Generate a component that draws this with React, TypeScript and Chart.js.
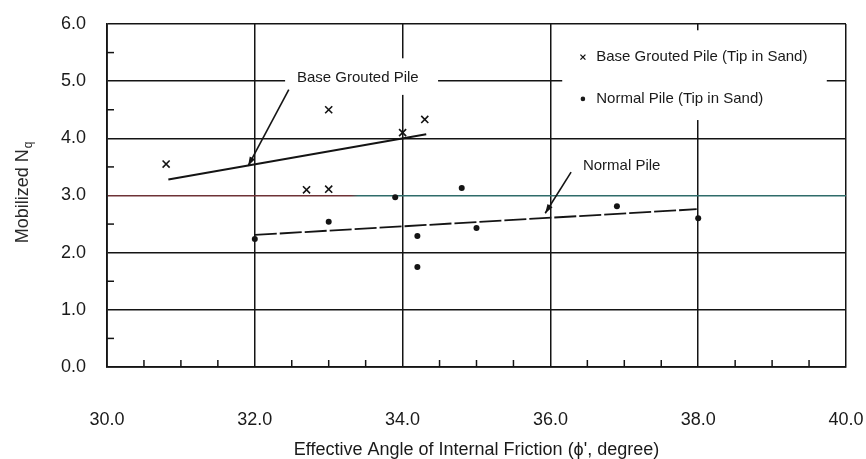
import React, { useEffect, useRef } from 'react';
import { Chart, registerables } from 'chart.js';

Chart.register(...registerables);

// ---- data ----
const groutedPhi = [30.8, 32.7, 33.0, 33.0, 34.0, 34.3];
const groutedNq = [3.55, 3.1, 3.11, 4.5, 4.1, 4.33];
const normalPhi = [32.0, 33.0, 33.9, 34.2, 34.2, 34.8, 35.0, 36.9, 38.0];
const normalNq = [2.24, 2.54, 2.97, 2.29, 1.75, 3.13, 2.43, 2.81, 2.6];
const groutedTrendPhi = [30.83, 34.32];
const groutedTrendNq = [3.28, 4.07];
const normalTrendPhi = [32.0, 37.98];
const normalTrendNq = [2.31, 2.76];
const xTickValues = [30, 32, 34, 36, 38, 40];
const yTickValues = [0, 1, 2, 3, 4, 5, 6];

const xTitle = "Effective Angle of Internal Friction (\u03D5', degree)";
const yTitleMain = 'Mobilized N';
const yTitleSub = 'q';
const legendGrouted = 'Base Grouted Pile (Tip in Sand)';
const legendNormal = 'Normal Pile (Tip in Sand)';
const labelGrouted = 'Base Grouted Pile';
const labelNormal = 'Normal Pile';

const FONT = "'Liberation Sans', Arial, sans-serif";
const INK = '#141414';
const TEXT = '#1a1a1a';

function arrow(ctx: CanvasRenderingContext2D, x1: number, y1: number, x2: number, y2: number) {
  ctx.beginPath();
  ctx.moveTo(x1, y1);
  ctx.lineTo(x2, y2);
  ctx.stroke();
  const a = Math.atan2(y2 - y1, x2 - x1);
  const len = 9;
  const w = 3;
  ctx.beginPath();
  ctx.moveTo(x2, y2);
  ctx.lineTo(x2 - len * Math.cos(a) + w * Math.sin(a), y2 - len * Math.sin(a) - w * Math.cos(a));
  ctx.lineTo(x2 - len * Math.cos(a) - w * Math.sin(a), y2 - len * Math.sin(a) + w * Math.cos(a));
  ctx.closePath();
  ctx.fill();
}

const decorPlugin = {
  id: 'decor',
  beforeDatasetsDraw(chart: any) {
    const { ctx, scales } = chart;
    const X = (v: number) => scales.x.getPixelForValue(v);
    const Y = (v: number) => scales.y.getPixelForValue(v);
    const area = chart.chartArea;
    ctx.save();
    ctx.strokeStyle = INK;
    ctx.fillStyle = INK;
    ctx.lineWidth = 1.5;
    // minor ticks
    for (let v = 30.5; v < 40; v += 0.5) {
      if (v % 2 === 0) continue;
      const px = X(v);
      ctx.beginPath();
      ctx.moveTo(px, area.bottom);
      ctx.lineTo(px, area.bottom - 7);
      ctx.stroke();
    }
    for (let v = 0.5; v < 6; v += 1) {
      const py = Y(v);
      ctx.beginPath();
      ctx.moveTo(area.left, py);
      ctx.lineTo(area.left + 7, py);
      ctx.stroke();
    }
    // white boxes behind labels and legend
    ctx.fillStyle = '#ffffff';
    ctx.fillRect(X(32.41), Y(5.4), X(34.48) - X(32.41), Y(4.76) - Y(5.4));
    ctx.fillRect(X(36.16), Y(5.89), X(39.74) - X(36.16), Y(4.32) - Y(5.89));
    ctx.fillStyle = TEXT;
    // labels
    ctx.font = `15px ${FONT}`;
    ctx.textBaseline = 'middle';
    ctx.textAlign = 'left';
    ctx.fillText(labelGrouted, X(32.57), Y(5.05));
    ctx.fillText(labelNormal, X(36.44), Y(3.52));
    // arrows
    ctx.fillStyle = INK;
    ctx.lineWidth = 1.6;
    arrow(ctx, X(32.46), Y(4.85), X(31.91), Y(3.52));
    arrow(ctx, X(36.28), Y(3.41), X(35.93), Y(2.69));
    // legend
    ctx.fillStyle = TEXT;
    ctx.font = `15px ${FONT}`;
    ctx.fillText(legendGrouted, X(36.62), Y(5.42));
    ctx.fillText(legendNormal, X(36.62), Y(4.69));
    const mx = X(36.44);
    const my1 = Y(5.42);
    ctx.lineWidth = 1.3;
    ctx.beginPath();
    ctx.moveTo(mx - 2.5, my1 - 2.5);
    ctx.lineTo(mx + 2.5, my1 + 2.5);
    ctx.moveTo(mx + 2.5, my1 - 2.5);
    ctx.lineTo(mx - 2.5, my1 + 2.5);
    ctx.stroke();
    ctx.beginPath();
    ctx.arc(mx, Y(4.69), 2.3, 0, Math.PI * 2);
    ctx.fill();
    ctx.restore();
  },
  afterDraw(chart: any) {
    const { ctx } = chart;
    ctx.save();
    ctx.fillStyle = '#2a2a2a';
    ctx.translate(28, 193);
    ctx.rotate(-Math.PI / 2);
    ctx.font = `18px ${FONT}`;
    const w1 = ctx.measureText(yTitleMain).width;
    ctx.font = `12px ${FONT}`;
    const w2 = ctx.measureText(yTitleSub).width;
    const start = -(w1 + w2) / 2;
    ctx.textBaseline = 'alphabetic';
    ctx.textAlign = 'left';
    ctx.font = `18px ${FONT}`;
    ctx.fillText(yTitleMain, start, 0);
    ctx.font = `12px ${FONT}`;
    ctx.fillText(yTitleSub, start + w1 + 1, 4);
    ctx.restore();
  },
};

export default function App() {
  const ref = useRef<HTMLCanvasElement | null>(null);
  useEffect(() => {
    document.body.style.margin = '0';
    const canvas = ref.current;
    if (!canvas) return;
    const yGridColor = (c: any) => {
      if (c.tick && c.tick.value === 3 && c.chart.chartArea) {
        const a = c.chart.chartArea;
        const g = c.chart.ctx.createLinearGradient(a.left, 0, a.right, 0);
        g.addColorStop(0, '#6e3236');
        g.addColorStop(0.33, '#6e3236');
        g.addColorStop(0.34, '#2f6c6a');
        g.addColorStop(1, '#2f6c6a');
        return g;
      }
      return INK;
    };
    const chart = new Chart(canvas, {
      type: 'scatter',
      data: {
        datasets: [
          {
            label: 'Base Grouted trend',
            type: 'line',
            data: groutedTrendPhi.map((x, i) => ({ x, y: groutedTrendNq[i] })),
            borderColor: INK,
            borderWidth: 2,
            pointRadius: 0,
            showLine: true,
          } as any,
          {
            label: 'Normal trend',
            type: 'line',
            data: normalTrendPhi.map((x, i) => ({ x, y: normalTrendNq[i] })),
            borderColor: INK,
            borderWidth: 1.8,
            borderDash: [22, 3],
            pointRadius: 0,
            showLine: true,
          } as any,
          {
            label: legendGrouted,
            data: groutedPhi.map((x, i) => ({ x, y: groutedNq[i] })),
            pointStyle: 'crossRot',
            pointRadius: 5,
            borderColor: INK,
            borderWidth: 1.6,
            backgroundColor: INK,
          },
          {
            label: legendNormal,
            data: normalPhi.map((x, i) => ({ x, y: normalNq[i] })),
            pointStyle: 'circle',
            pointRadius: 3,
            borderWidth: 0,
            backgroundColor: INK,
          },
        ],
      },
      options: {
        responsive: false,
        animation: false,
        devicePixelRatio: 1,
        layout: { padding: { left: 0, top: 24, right: 20, bottom: 0 } },
        plugins: { legend: { display: false }, tooltip: { enabled: false } },
        scales: {
          x: {
            type: 'linear',
            min: 30,
            max: 40,
            afterBuildTicks: (scale: any) => {
              scale.ticks = xTickValues.map((v) => ({ value: v }));
            },
            afterFit: (scale: any) => {
              scale.height = 92;
              scale.paddingLeft = 0;
              scale.paddingRight = 0;
            },
            ticks: {
              callback: (v: any) => Number(v).toFixed(1),
              font: { family: FONT, size: 18 },
              color: TEXT,
              padding: 42,
              maxRotation: 0,
            },
            grid: { color: INK, lineWidth: 1.5, drawTicks: false },
            border: { display: true, color: INK, width: 1.8 },
            title: {
              display: true,
              text: xTitle,
              font: { family: FONT, size: 18, lineHeight: 1 },
              color: TEXT,
              padding: { top: 0, bottom: 0 },
            },
          },
          y: {
            type: 'linear',
            min: 0,
            max: 6,
            afterBuildTicks: (scale: any) => {
              scale.ticks = yTickValues.map((v) => ({ value: v }));
            },
            afterFit: (scale: any) => {
              scale.width = 107;
              scale.paddingTop = 0;
              scale.paddingBottom = 0;
            },
            ticks: {
              callback: (v: any) => Number(v).toFixed(1),
              font: { family: FONT, size: 18 },
              color: TEXT,
              padding: 21,
            },
            grid: { color: yGridColor, lineWidth: 1.5, drawTicks: false },
            border: { display: true, color: INK, width: 1.8 },
          },
        },
      },
      plugins: [decorPlugin],
    });
    return () => chart.destroy();
  }, []);
  return (
    <div style={{ width: 866, height: 459, background: '#fff' }}>
      <canvas ref={ref} width={866} height={459} style={{ display: 'block' }} />
    </div>
  );
}
